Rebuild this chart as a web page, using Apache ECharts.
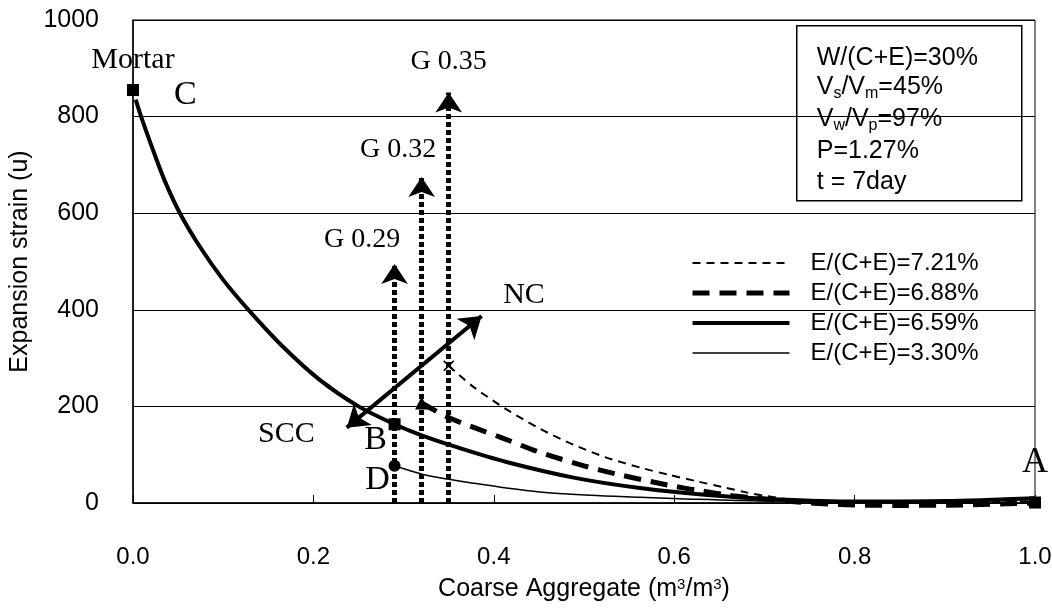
<!DOCTYPE html>
<html>
<head>
<meta charset="utf-8">
<script src="https://cdn.jsdelivr.net/npm/echarts@6/dist/echarts.min.js"></script>
<style>
html,body{margin:0;padding:0;background:#fff;}
#chart{width:1052px;height:608px;}
</style>
</head>
<body>
<div id="chart"></div>
<script>
// ---- data ----
const seriesNames = ['E/(C+E)=7.21%', 'E/(C+E)=6.88%', 'E/(C+E)=6.59%', 'E/(C+E)=3.30%'];

const x721 = [0.35, 0.377, 0.414, 0.451, 0.488, 0.525, 0.565, 0.595, 0.625, 0.654, 0.68, 0.70, 0.73, 0.77, 0.85, 0.92, 1.0];
const y721 = [284, 241, 194, 154, 121, 94, 72, 58, 45, 33, 22, 15, 7, 1, 0, 1, 4];

const x688 = [0.32, 0.351, 0.409, 0.451, 0.50, 0.536, 0.565, 0.599, 0.63, 0.661, 0.691, 0.73, 0.78, 0.85, 0.92, 1.0];
const y688 = [207, 176, 135, 105, 77, 60, 48, 35, 25, 16, 10, 3, -3, -5, -4, 0];

const x659 = [0.003, 0.009, 0.02, 0.035, 0.052, 0.074, 0.1, 0.128, 0.166, 0.207, 0.25, 0.29, 0.32, 0.36, 0.414, 0.49, 0.562, 0.64, 0.71, 0.8, 0.9, 1.0];
const y659 = [835, 800, 742, 668, 600, 531, 462, 400, 324, 255, 200, 163, 140, 115, 85, 52, 31, 16, 8, 3, 4, 10];

const x330 = [0.29, 0.3215, 0.35, 0.377, 0.414, 0.451, 0.507, 0.562, 0.62, 0.7, 0.8, 0.9, 1.0];
const y330 = [77, 59, 49, 41, 31, 23, 16, 12, 8, 4, 3, 4, 8];

// marker points
const markerX = [0, 0.29, 0.32, 0.35, 0.29, 1.0];
const markerY = [855, 163, 207, 284, 77, 1];
const markerKind = ['square', 'square', 'triangle', 'cross', 'circle', 'square'];

// vertical G arrows
const gX = [0.29, 0.32, 0.35];
const gTop = [495, 675, 850];

// NC / SCC double arrow
const ncFrom = [0.237, 156];
const ncTo = [0.3865, 387];

// annotation texts and anchors (data space)
const annText = ['Mortar', 'C', 'G 0.35', 'G 0.32', 'G 0.29', 'NC', 'SCC', 'B', 'D', 'A'];
const annX = [0.0, 0.058, 0.350, 0.294, 0.254, 0.4335, 0.170, 0.269, 0.271, 1.0];
const annY = [917, 845, 913, 731, 545, 430, 143, 131, 48, 83];

const infoLines = ['W/(C+E)=30%', 'V{sub|s}/V{sub|m}=45%', 'V{sub|w}/V{sub|p}=97%', 'P=1.27%', 't = 7day'];

// ---- styles ----
const SANS = '"Liberation Sans", Arial, sans-serif';
const SERIF = '"Liberation Serif", "Times New Roman", serif';
const annSize = {'Mortar': 30, 'C': 34, 'G 0.35': 28, 'G 0.32': 28, 'G 0.29': 28, 'NC': 30, 'SCC': 30, 'B': 34, 'D': 34, 'A': 36};
const lineStyles = [
  {width: 2, type: [8, 6]},
  {width: 5, type: [17, 10]},
  {width: 4, type: 'solid'},
  {width: 1.5, type: 'solid'}
];

const zip = (xs, ys) => xs.map((x, i) => [x, ys[i]]);
const crossPath = 'path://M0,1L1,0L5,4L9,0L10,1L6,5L10,9L9,10L5,6L1,10L0,9L4,5Z';
const symFor = {square: 'rect', triangle: 'triangle', circle: 'circle', cross: crossPath};
const sizeFor = {square: 12, triangle: 13, circle: 12, cross: 11};

const chart = echarts.init(document.getElementById('chart'), null, {renderer: 'canvas'});

const curveData = [[x721, y721], [x688, y688], [x659, y659], [x330, y330]];
const lineSeries = curveData.map((d, i) => ({
  name: seriesNames[i], type: 'line', data: zip(d[0], d[1]), smooth: 0.3,
  symbol: 'none', clip: false, z: 3, animation: false,
  lineStyle: {color: '#000', width: lineStyles[i].width, type: lineStyles[i].type, cap: 'butt', opacity: 1},
  itemStyle: {color: '#000'}
}));

const option = {
  animation: false,
  backgroundColor: '#fff',
  grid: {left: 133, right: 17, top: 20, bottom: 105, containLabel: false, outerBoundsMode: 'none',
    show: true, borderColor: '#000', borderWidth: 1, backgroundColor: 'transparent'},
  xAxis: {
    type: 'value', min: 0, max: 1, interval: 0.2,
    name: 'Coarse Aggregate (m{sup|3}/m{sup|3})', nameLocation: 'middle', nameGap: 74,
    nameTextStyle: {fontFamily: SANS, fontSize: 25, color: '#000',
      rich: {sup: {fontFamily: SANS, fontSize: 15, verticalAlign: 'top', lineHeight: 12, color: '#000'}}},
    axisLine: {lineStyle: {color: '#000', width: 1.5}},
    axisTick: {inside: true, length: 8, lineStyle: {color: '#000'}},
    axisLabel: {fontFamily: SANS, fontSize: 24, color: '#000', margin: 42, formatter: v => v.toFixed(1)},
    splitLine: {show: false}
  },
  yAxis: {
    type: 'value', min: 0, max: 1000, interval: 200,
    name: 'Expansion strain (u)', nameLocation: 'middle', nameGap: 96,
    nameTextStyle: {fontFamily: SANS, fontSize: 25, color: '#000'},
    axisLine: {lineStyle: {color: '#000', width: 1.5}},
    axisTick: {inside: true, length: 8, lineStyle: {color: '#000'}},
    axisLabel: {fontFamily: SANS, fontSize: 25, color: '#000', margin: 34, formatter: v => String(v)},
    splitLine: {show: true, lineStyle: {color: '#000', width: 1}}
  },
  legend: {
    data: seriesNames.map((n, i) => ({
      name: n,
      itemStyle: {opacity: 0, borderWidth: 0},
      lineStyle: {color: '#000', width: lineStyles[i].width, type: lineStyles[i].type, opacity: 1}
    })),
    orient: 'vertical', left: 690, top: 251, padding: 0,
    itemWidth: 97, itemHeight: 20, itemGap: 6,
    textStyle: {fontFamily: SANS, fontSize: 24, color: '#000', lineHeight: 22, padding: [0, 0, 0, 16]},
    selectedMode: false
  },
  series: [
    ...lineSeries,
    {
      type: 'lines', coordinateSystem: 'cartesian2d', z: 4, polyline: false, animation: false,
      symbol: ['none', 'arrow'], symbolSize: 20,
      lineStyle: {color: '#000', width: 5, type: [5, 3], opacity: 1, cap: 'butt'},
      data: gX.map((x, i) => ({coords: [[x, 0], [x, gTop[i]]]}))
    },
    {
      type: 'lines', coordinateSystem: 'cartesian2d', z: 5, polyline: false, animation: false,
      symbol: ['arrow', 'arrow'], symbolSize: 21,
      lineStyle: {color: '#000', width: 4, type: 'solid', opacity: 1},
      data: [{coords: [ncFrom, ncTo]}]
    },
    {
      type: 'scatter', z: 6, animation: false, clip: false,
      itemStyle: {color: '#000', opacity: 1},
      data: markerX.map((x, i) => ({
        value: [x, markerY[i]],
        symbol: symFor[markerKind[i]],
        symbolSize: sizeFor[markerKind[i]],
        itemStyle: {color: '#000', opacity: 1}
      }))
    },
    {
      type: 'scatter', z: 7, animation: false, clip: false, symbolSize: 1,
      itemStyle: {color: 'rgba(255,255,255,0)', opacity: 1},
      data: annText.map((t, i) => ({
        value: [annX[i], annY[i]], name: t,
        label: {show: true, position: 'inside', formatter: t, fontFamily: SERIF, opacity: 1,
          fontSize: annSize[t], color: '#000', textBorderWidth: 0}
      }))
    }
  ],
  graphic: [{
    type: 'group', left: 796, top: 25,
    children: [
      {type: 'rect', shape: {x: 0, y: 0, width: 225, height: 175},
        style: {fill: '#fff', stroke: '#000', lineWidth: 1.5}},
      ...infoLines.map((t, i) => ({
        type: 'text', x: 20, y: [32, 61, 93, 125, 156][i],
        style: {
          text: t, fontFamily: SANS, fontSize: 25, fill: '#000', verticalAlign: 'middle',
          lineHeight: 30,
          rich: {sub: {fontFamily: SANS, fontSize: 16, lineHeight: 16, verticalAlign: 'bottom', fill: '#000'}}
        }
      }))
    ]
  }]
};
chart.setOption(option);
</script>
</body>
</html>
